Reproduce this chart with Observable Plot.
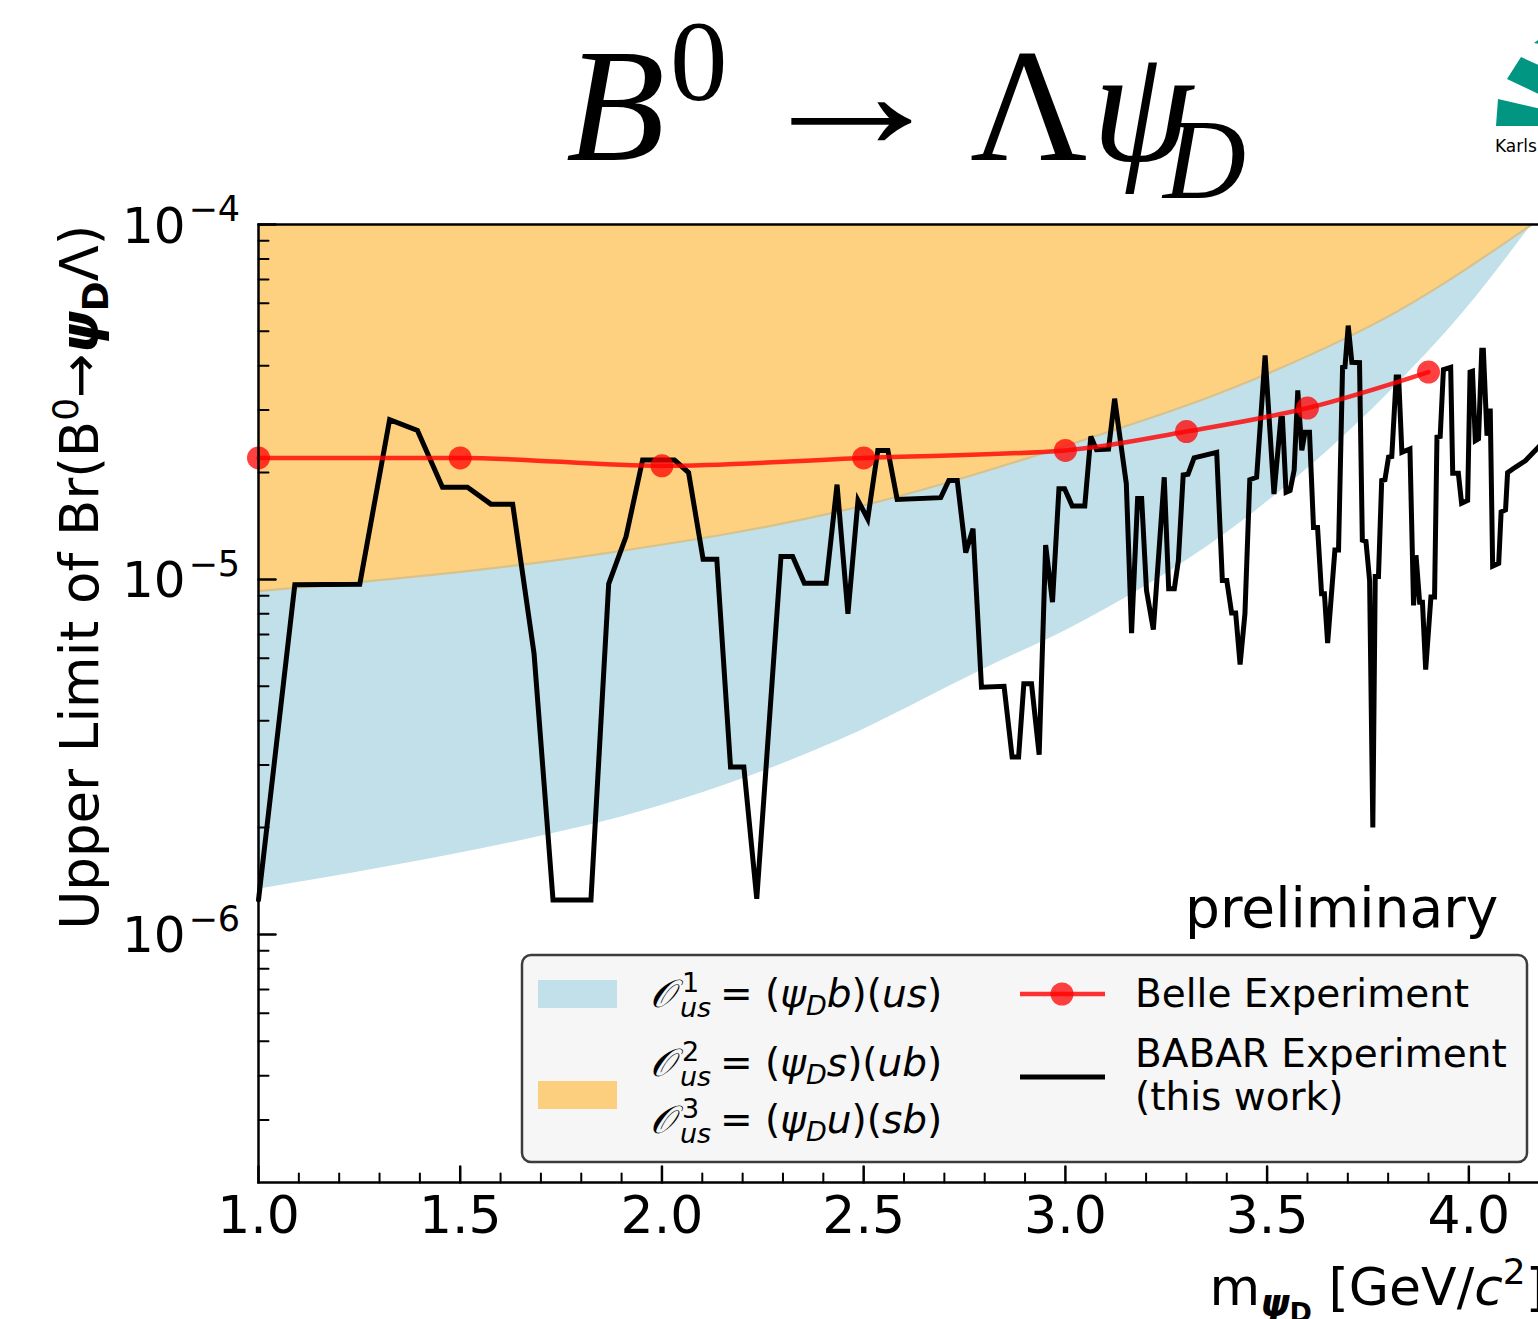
<!DOCTYPE html>
<html><head><meta charset="utf-8">
<script src="https://cdn.jsdelivr.net/npm/d3@7"></script>
<script src="https://cdn.jsdelivr.net/npm/@observablehq/plot@0.6"></script>
<style>
html,body{margin:0;padding:0;overflow:hidden;background:#fff;width:1538px;height:1319px}
#chart svg{display:block;max-width:none !important;width:1560px !important;height:1319px !important}
</style></head><body><div id="chart"></div>
<script>
// BABAR upper limits (this work)
const babarMass = [1.000,1.090,1.251,1.325,1.394,1.456,1.518,1.576,1.630,1.683,1.730,1.824,1.868,1.911,1.952,2.031,2.066,2.102,2.136,2.170,2.203,2.235,2.295,2.324,2.353,2.407,2.434,2.461,2.486,2.510,2.535,2.560,2.583,2.691,2.711,2.732,2.753,2.771,2.792,2.848,2.868,2.884,2.897,2.916,2.935,2.951,2.968,2.984,2.998,3.017,3.048,3.063,3.077,3.107,3.122,3.151,3.164,3.179,3.189,3.201,3.218,3.245,3.256,3.270,3.280,3.292,3.304,3.319,3.375,3.389,3.400,3.412,3.422,3.433,3.445,3.457,3.474,3.495,3.517,3.534,3.538,3.547,3.557,3.567,3.576,3.586,3.594,3.605,3.615,3.625,3.635,3.642,3.650,3.668,3.677,3.687,3.693,3.701,3.710,3.729,3.736,3.745,3.754,3.762,3.768,3.776,3.784,3.792,3.801,3.809,3.820,3.826,3.834,3.854,3.863,3.869,3.878,3.885,3.893,3.906,3.915,3.921,3.929,3.937,3.955,3.960,3.974,3.982,3.997,4.003,4.009,4.016,4.024,4.032,4.036,4.045,4.053,4.059,4.074,4.080,4.091,4.096,4.115,4.140,4.176,4.190];
const babarLimit = [1.25e-6,9.66e-6,9.70e-6,2.82e-5,2.63e-5,1.82e-5,1.82e-5,1.63e-5,1.63e-5,6.18e-6,1.25e-6,1.25e-6,9.72e-6,1.32e-5,2.17e-5,2.17e-5,2.00e-5,1.14e-5,1.14e-5,2.96e-6,2.96e-6,1.26e-6,1.16e-5,1.16e-5,9.76e-6,9.76e-6,1.85e-5,8.00e-6,1.67e-5,1.48e-5,2.31e-5,2.31e-5,1.68e-5,1.70e-5,1.90e-5,1.90e-5,1.19e-5,1.39e-5,4.97e-6,5.00e-6,3.16e-6,3.16e-6,5.08e-6,5.08e-6,3.21e-6,1.25e-5,8.63e-6,1.80e-5,1.80e-5,1.61e-5,1.61e-5,2.53e-5,2.32e-5,2.33e-5,3.23e-5,1.86e-5,7.06e-6,1.69e-5,1.69e-5,9.31e-6,7.22e-6,1.94e-5,9.41e-6,9.41e-6,1.13e-5,1.97e-5,1.98e-5,2.20e-5,2.28e-5,9.94e-6,9.94e-6,8.05e-6,8.05e-6,5.76e-6,8.00e-6,1.91e-5,1.94e-5,4.28e-5,1.74e-5,2.84e-5,2.84e-5,1.76e-5,1.78e-5,2.03e-5,3.41e-5,2.31e-5,2.60e-5,2.60e-5,1.40e-5,1.40e-5,9.11e-6,9.11e-6,6.62e-6,1.21e-5,1.21e-5,3.96e-5,3.97e-5,5.19e-5,4.09e-5,4.08e-5,1.29e-5,1.28e-5,9.94e-6,2.00e-6,1.02e-5,1.02e-5,1.90e-5,1.91e-5,2.21e-5,2.22e-5,3.72e-5,3.72e-5,2.28e-5,2.33e-5,8.45e-6,1.17e-5,8.63e-6,8.63e-6,5.57e-6,8.92e-6,8.92e-6,2.52e-5,2.53e-5,3.90e-5,3.96e-5,1.99e-5,1.99e-5,1.64e-5,1.67e-5,3.84e-5,3.86e-5,2.46e-5,2.49e-5,4.42e-5,4.42e-5,2.54e-5,3.03e-5,1.09e-5,1.11e-5,1.55e-5,1.57e-5,2.00e-5,2.07e-5,2.16e-5,2.38e-5,2.50e-5];

// Belle Experiment
const belleMass = [1.0,1.5,2.0,2.5,3.0,3.3,3.6,3.9];
const belleLimit = [2.20e-5,2.20e-5,2.09e-5,2.20e-5,2.31e-5,2.61e-5,3.04e-5,3.84e-5];

// Operator O1 band lower edge, O2/O3 band lower edge
const op1Mass = [1.0,1.708,1.849,2.444,2.792,3.040,3.462,3.800,3.990,4.156];
const op1Low = [1.34e-6,1.90e-6,2.07e-6,3.54e-6,5.55e-6,7.58e-6,1.53e-5,3.34e-5,5.72e-5,1.0e-4];
const op23Mass = [1.0,1.849,2.444,3.040,3.462,3.826,4.156];
const op23Low = [9.27e-6,1.18e-5,1.56e-5,2.46e-5,3.64e-5,5.72e-5,1.0e-4];
const bandTop = 1.0e-4;

// ticks
const xMajor = [1.0,1.5,2.0,2.5,3.0,3.5,4.0];
const xTickLabels = ["1.0","1.5","2.0","2.5","3.0","3.5","4.0"];
const xMinor = [1.1,1.2,1.3,1.4,1.6,1.7,1.8,1.9,2.1,2.2,2.3,2.4,2.6,2.7,2.8,2.9,3.1,3.2,3.3,3.4,3.6,3.7,3.8,3.9,4.1];
const yMajor = [1e-4,1e-5,1e-6];
const yTickBase = ["10","10","10"];
const yTickExp = ["−4","−5","−6"];
const yMinor = [3e-7,4e-7,5e-7,6e-7,7e-7,8e-7,9e-7,2e-6,3e-6,4e-6,5e-6,6e-6,7e-6,8e-6,9e-6,2e-5,3e-5,4e-5,5e-5,6e-5,7e-5,8e-5,9e-5];

const babar = babarMass.map((m,i)=>({m, v: babarLimit[i]}));
const belle = belleMass.map((m,i)=>({m, v: belleLimit[i]}));
const op1 = op1Mass.map((m,i)=>({m, lo: op1Low[i], hi: bandTop}));
const op23 = op23Mass.map((m,i)=>({m, lo: op23Low[i], hi: bandTop}));
const xLab = xMajor.map((v,i)=>({v, t: xTickLabels[i]}));
const yLab = yMajor.map((v,i)=>({v, b: yTickBase[i], e: yTickExp[i]}));

const tickUp = {draw(ctx, l){ ctx.moveTo(0,0); ctx.lineTo(0,-l); }};

const FONT = "DejaVu Sans";
const BLUE = "#c1e0ea", ORANGE = "#fdd180";

const plot = Plot.plot({
  width: 1560, height: 1319,
  marginLeft: 258, marginRight: 15, marginTop: 224, marginBottom: 137,
  style: {fontFamily: FONT, background: "white", overflow: "visible"},
  x: {domain: [1, 4.19], axis: null},
  y: {type: "log", domain: [2e-7, 1e-4], axis: null},
  marks: [
    Plot.areaY(op1, {x: "m", y1: "lo", y2: "hi", fill: BLUE, curve: "monotone-x"}),
    Plot.areaY(op23, {x: "m", y1: "lo", y2: "hi", fill: ORANGE, curve: "monotone-x"}),
    Plot.line(op23, {x: "m", y: "lo", stroke: "#d8c28a", strokeWidth: 2.2, curve: "monotone-x"}),
    Plot.line(babar, {x: "m", y: "v", stroke: "black", strokeWidth: 5, strokeLinejoin: "miter", strokeMiterlimit: 4}),
    Plot.line(belle, {x: "m", y: "v", stroke: "red", strokeOpacity: 0.8, strokeWidth: 4.5, curve: "monotone-x"}),
    Plot.dot(belle, {x: "m", y: "v", r: 11.5, fill: "red", fillOpacity: 0.75, stroke: "none"}),
    Plot.frame({stroke: "black", strokeWidth: 2.5}),
    // x ticks (inward)
    Plot.vector(xMajor, {x: d=>d, frameAnchor: "bottom", length: 16, rotate: 0, anchor: "start", shape: tickUp, stroke: "black", strokeWidth: 2.5}),
    Plot.vector(xMinor, {x: d=>d, frameAnchor: "bottom", length: 9, rotate: 0, anchor: "start", shape: tickUp, stroke: "black", strokeWidth: 2}),
    // y ticks (inward)
    Plot.vector(yMajor, {y: d=>d, frameAnchor: "left", length: 17, rotate: 90, anchor: "start", shape: tickUp, stroke: "black", strokeWidth: 2.5}),
    Plot.vector(yMinor, {y: d=>d, frameAnchor: "left", length: 10, rotate: 90, anchor: "start", shape: tickUp, stroke: "black", strokeWidth: 2}),
    // tick labels
    Plot.text(xLab, {x: "v", text: "t", frameAnchor: "bottom", dy: 50, fontSize: 52, fill: "black", fontFamily: FONT}),
    Plot.text(yLab, {y: "v", text: "b", frameAnchor: "left", dx: -73, dy: 2, textAnchor: "end", fontSize: 50, fill: "black", fontFamily: FONT}),
    Plot.text(yLab, {y: "v", text: "e", frameAnchor: "left", dx: -70, dy: -15, textAnchor: "start", fontSize: 35, fill: "black", fontFamily: FONT})
  ]
});
document.getElementById("chart").appendChild(plot);

const svg = d3.select(plot);
function addText(g, x, y, parts, base) {
  const t = g.append("text").attr("x", x).attr("y", y)
    .attr("font-family", base.family || FONT).attr("font-size", base.size).attr("fill", "black")
    .attr("text-anchor", base.anchor || "start");
  if (base.transform) t.attr("transform", base.transform);
  for (const p of parts) {
    const s = t.append("tspan").text(p.t);
    if (p.size) s.attr("font-size", p.size);
    if (p.dy) s.attr("dy", p.dy);
    if (p.dx) s.attr("dx", p.dx);
    if (p.it) s.attr("font-style", "italic");
    if (p.bold) s.attr("font-weight", "bold");
    if (p.family) s.attr("font-family", p.family);
  }
  return t;
}
const g = svg.append("g");

// Title
const SERIF = "Liberation Serif";
addText(g, 566, 160, [{t: "B", it: true}], {size: 162, family: SERIF});
addText(g, 670, 100, [{t: "0"}], {size: 115, family: SERIF});
addText(g, 0, 0, [{t: "→"}], {size: 162, family: SERIF, transform: "translate(750,148) scale(1.25,1)"});
addText(g, 970, 160, [{t: "Λ"}], {size: 162, family: SERIF});
addText(g, 1092, 160, [{t: "ψ", it: true}], {size: 162, family: SERIF});
addText(g, 1163, 198, [{t: "D", it: true}], {size: 115, family: SERIF});

// KIT logo (partial, cropped by the page edge)
g.append("polygon").attr("points", "1496,126 1498,99 1545,110 1545,126").attr("fill", "#009682");
g.append("polygon").attr("points", "1507,79 1521,57 1545,68 1545,97").attr("fill", "#009682");
g.append("polygon").attr("points", "1534,43 1538,40 1545,42 1545,45").attr("fill", "#009682");
addText(g, 1495, 152, [{t: "Karls"}], {size: 17});

// Y label
addText(g, 0, 0, [
  {t: "Upper Limit of Br(B"},
  {t: "0", size: 36, dy: -20},
  {t: "→", dy: 20},
  {t: "ψ", it: true, bold: true},
  {t: "D", bold: true, size: 36, dy: 10},
  {t: "Λ)", dy: -10}
], {size: 53, anchor: "middle", transform: "translate(98,577) rotate(-90)"});

// X label
addText(g, 1546, 1305, [
  {t: "m"},
  {t: "ψ", it: true, bold: true, size: 37, dy: 11},
  {t: "D", bold: true, size: 27, dy: 6},
  {t: " [GeV/", dy: -17},
  {t: "c", it: true},
  {t: "2", size: 36, dy: -21},
  {t: "]", dy: 21}
], {size: 52, anchor: "end"});

// preliminary
addText(g, 1185, 927, [{t: "preliminary"}], {size: 55});

// Legend
const L = svg.append("g");
L.append("rect").attr("x", 522).attr("y", 955).attr("width", 1005).attr("height", 207)
  .attr("rx", 9).attr("fill", "#f6f6f6").attr("stroke", "#3c3c3c").attr("stroke-width", 2.5);
L.append("rect").attr("x", 538).attr("y", 980).attr("width", 79).attr("height", 28).attr("fill", BLUE);
L.append("rect").attr("x", 538).attr("y", 1081).attr("width", 79).attr("height", 28).attr("fill", "#fbcf7d");
L.append("line").attr("x1", 1020).attr("x2", 1105).attr("y1", 994).attr("y2", 994)
  .attr("stroke", "red").attr("stroke-opacity", 0.8).attr("stroke-width", 4.5);
L.append("circle").attr("cx", 1062).attr("cy", 994).attr("r", 11.5).attr("fill", "red").attr("fill-opacity", 0.75);
L.append("line").attr("x1", 1020).attr("x2", 1105).attr("y1", 1077).attr("y2", 1077)
  .attr("stroke", "black").attr("stroke-width", 5);
addText(L, 1135, 1007, [{t: "Belle Experiment"}], {size: 39});
addText(L, 1135, 1067, [{t: "BABAR Experiment"}], {size: 39});
addText(L, 1135, 1110, [{t: "(this work)"}], {size: 39});

function opRow(y, sup, a, b) {
  addText(L, 650, y, [{t: "𝒪", it: true}], {size: 39});
  addText(L, 682, y - 15, [{t: sup}], {size: 27});
  addText(L, 680, y + 10, [{t: "us", it: true}], {size: 27});
  addText(L, 720, y, [
    {t: "= ("}, {t: "ψ", it: true}, {t: "D", it: true, size: 27, dy: 8},
    {t: a, it: true, dy: -8}, {t: ")("}, {t: b, it: true}, {t: ")"}
  ], {size: 39});
}
opRow(1007, "1", "b", "us");
opRow(1076, "2", "s", "ub");
opRow(1133, "3", "u", "sb");
</script></body></html>
